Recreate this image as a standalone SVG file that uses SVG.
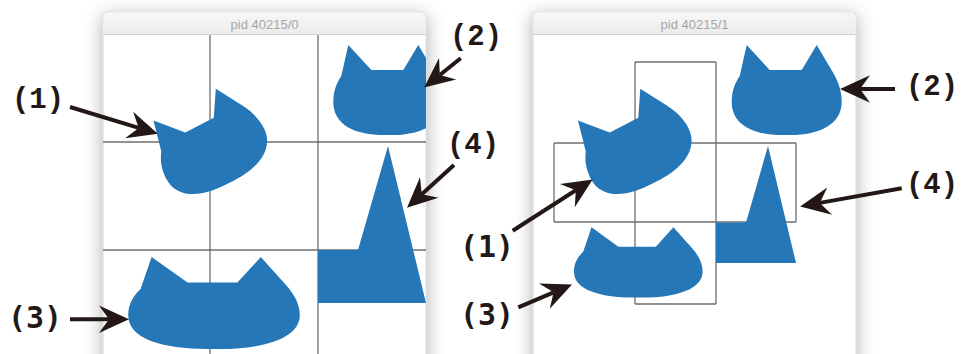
<svg xmlns="http://www.w3.org/2000/svg" width="961" height="354" viewBox="0 0 961 354">
<style>
.title{font-family:"Liberation Sans",Arial,sans-serif;font-size:13px;fill:#a6a6a6;text-anchor:middle}
.grid{fill:none;stroke:#6f6f6f;stroke-width:1.3}
.blue{fill:#2677b7}
.lblc{font-family:"Liberation Mono","Courier New",monospace;font-weight:bold;font-size:29px;fill:#231815;text-anchor:middle}
.lbls{font-family:"DejaVu Sans Mono","Liberation Mono",monospace;font-weight:bold;font-size:30px;fill:#231815;text-anchor:middle}
.arrow{stroke:#231815;stroke-width:4;fill:none;marker-end:url(#ah)}
</style>
<defs>
<filter id="sh" x="-20%" y="-20%" width="140%" height="140%">
<feDropShadow dx="0" dy="4" stdDeviation="9" flood-color="#000" flood-opacity="0.32"/>
</filter>
<linearGradient id="tb" x1="0" y1="0" x2="0" y2="1">
<stop offset="0" stop-color="#f7f7f7"/>
<stop offset="1" stop-color="#ececec"/>
</linearGradient>
<marker id="ah" markerUnits="userSpaceOnUse" markerWidth="40" markerHeight="40" refX="0" refY="0" viewBox="-12 -14 32 28" orient="auto" overflow="visible">
<path d="M16,0 L-8,-11 L0,0 L-8,11 Z" fill="#231815"/>
</marker>
<path id="cat" d="M-40,-45 L-17,-20 L15,-20 L30,-45 L46,-18 C52,-8 55,2 55,12 C55,35 31,46 0,45 C-31,46 -55,36 -55,12 C-55,0 -51,-8 -47,-14 Z"/>
<clipPath id="cl"><rect x="103" y="35" width="323" height="330"/></clipPath>
<clipPath id="cr"><rect x="533" y="35" width="323" height="330"/></clipPath>
</defs>
<rect x="0" y="0" width="961" height="354" fill="#ffffff"/>

<g id="window-left">
<path d="M103,16 Q103,12 107,12 L422,12 Q426,12 426,16 L426,370 L103,370 Z" fill="#ffffff" stroke="#d6d6d6" stroke-width="1" filter="url(#sh)"/>
<path d="M103.5,16 Q103.5,12.5 107,12.5 L422,12.5 Q425.5,12.5 425.5,16 L425.5,34.5 L103.5,34.5 Z" fill="url(#tb)"/>
<line x1="103" y1="34.5" x2="426" y2="34.5" stroke="#d2d2d2" stroke-width="1"/>
<text class="title" x="264.5" y="29">pid 40215/0</text>
<g clip-path="url(#cl)">
<path class="grid" d="M103,142 H426 M103,250 H426 M210,35 V370 M318,35 V370"/>
<g id="left-cat-1"><use href="#cat" class="blue" transform="translate(209.5,142.5) rotate(-27)"/></g>
<g id="left-cat-2"><use href="#cat" class="blue" transform="translate(388.3,90)"/></g>
<g id="left-cat-3"><use href="#cat" class="blue" transform="translate(214,303) scale(1.56,1.02)"/></g>
<g id="left-shape-4"><polygon class="blue" points="318,250 358,250 388,146 426,303 318,303"/></g>
</g>
</g>

<g id="window-right">
<path d="M533,16 Q533,12 537,12 L852,12 Q856,12 856,16 L856,370 L533,370 Z" fill="#ffffff" stroke="#d6d6d6" stroke-width="1" filter="url(#sh)"/>
<path d="M533.5,16 Q533.5,12.5 537,12.5 L852,12.5 Q855.5,12.5 855.5,16 L855.5,34.5 L533.5,34.5 Z" fill="url(#tb)"/>
<line x1="533" y1="34.5" x2="856" y2="34.5" stroke="#d2d2d2" stroke-width="1"/>
<text class="title" x="694.5" y="29">pid 40215/1</text>
<g clip-path="url(#cr)">
<path class="grid" d="M635,62 H716 M554,143 H796 M554,222 H796 M635,304 H716 M635,62 V304 M716,62 V304 M554,143 V222 M796,143 V222"/>
<g id="right-cat-1"><use href="#cat" class="blue" transform="translate(634,142.5) rotate(-27)"/></g>
<g id="right-cat-2"><use href="#cat" class="blue" transform="translate(786.7,90)"/></g>
<g id="right-cat-3"><use href="#cat" class="blue" transform="translate(638.3,262.3) scale(1.17,0.78)"/></g>
<g id="right-shape-4"><polygon class="blue" points="716,222.5 746,222.5 768,146 796,263 716,263"/></g>
</g>
</g>

<g id="labels">
<g id="label-left-1"><text class="lblc" x="38" y="108">(1)</text></g>
<g id="label-left-2"><text class="lblc" x="476" y="45">(2)</text></g>
<g id="label-left-4"><text class="lblc" x="473" y="153">(4)</text></g>
<g id="label-left-3"><text class="lbls" x="35" y="328">(3)</text></g>
<g id="label-right-2"><text class="lblc" x="932" y="95">(2)</text></g>
<g id="label-right-4"><text class="lblc" x="932" y="193">(4)</text></g>
<g id="label-right-1"><text class="lbls" x="487" y="257">(1)</text></g>
<g id="label-right-3"><text class="lbls" x="487" y="325">(3)</text></g>
</g>

<g id="connectors">
<line class="arrow" x1="70" y1="107" x2="138.7" y2="127.9"/>
<line class="arrow" x1="460.7" y1="58.3" x2="439.8" y2="75"/>
<line class="arrow" x1="454" y1="165" x2="421.8" y2="194.2"/>
<line class="arrow" x1="70" y1="319.3" x2="109" y2="319.3"/>
<line class="arrow" x1="895" y1="89" x2="860" y2="89"/>
<line class="arrow" x1="901.7" y1="188.3" x2="819.8" y2="202.9"/>
<line class="arrow" x1="512.7" y1="230.7" x2="575.8" y2="190.3"/>
<line class="arrow" x1="518.3" y1="307.3" x2="553.6" y2="292.3"/>
</g>
</svg>
